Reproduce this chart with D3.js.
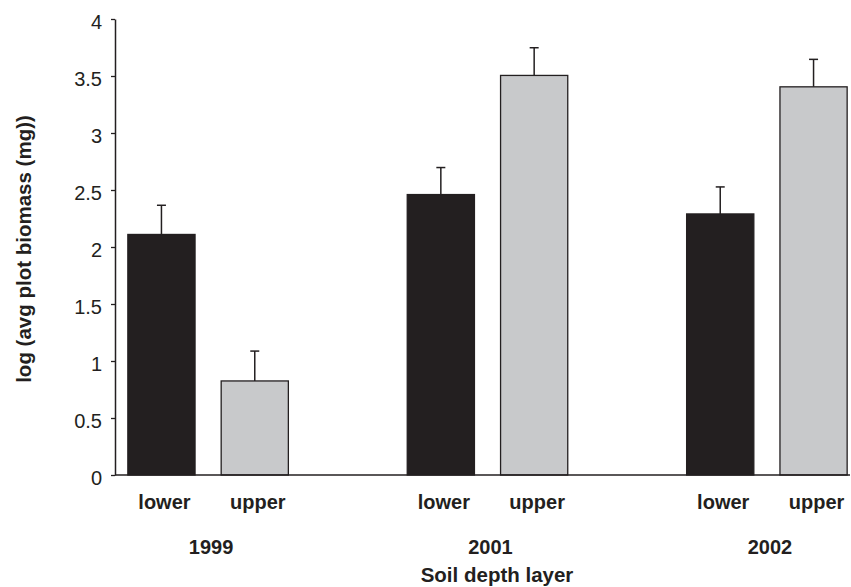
<!DOCTYPE html>
<html>
<head>
<meta charset="utf-8">
<script src="https://cdn.jsdelivr.net/npm/d3@7"></script>
<style>
  html, body { margin: 0; padding: 0; background: #ffffff; }
  svg { display: block; }
  text { font-family: "Liberation Sans", Arial, Helvetica, sans-serif; fill: #231f20; }
</style>
</head>
<body>
<svg id="chart" width="851" height="587"></svg>
<script>
// Years sampled and soil layers within each year
const years = ["1999", "2001", "2002"];
const layers = ["lower", "upper"];

// Mean log biomass per layer, one entry per year
const lowerMeans = [2.11, 2.46, 2.29];
const upperMeans = [0.825, 3.505, 3.405];

// Standard error (upper whisker length)
const lowerErrors = [0.256, 0.237, 0.237];
const upperErrors = [0.262, 0.243, 0.241];

const yTicks = [0, 0.5, 1, 1.5, 2, 2.5, 3, 3.5, 4];
const yTickLabels = ["0", "0.5", "1", "1.5", "2", "2.5", "3", "3.5", "4"];

const layerFill = { lower: "#231f20", upper: "#c8c9cb" };
const ink = "#231f20";

const svg = d3.select("#chart");
const margin = { left: 115, right: 1, top: 19, bottom: 112 };
const W = 851, H = 587;

const x = d3.scaleBand()
  .domain(years)
  .range([margin.left, margin.left + 745])
  .paddingInner(0.4255)
  .paddingOuter(0.046);

const xInner = d3.scaleBand()
  .domain(layers)
  .range([0, x.bandwidth()])
  .paddingInner(0.28)
  .paddingOuter(0);

const y = d3.scaleLinear()
  .domain([0, 4])
  .range([H - margin.bottom, margin.top]);

const rows = years.map((yr, i) => ({
  year: yr,
  bars: [
    { layer: "lower", value: lowerMeans[i], err: lowerErrors[i] },
    { layer: "upper", value: upperMeans[i], err: upperErrors[i] }
  ]
}));

// Error whiskers (drawn first so bars sit over their bases)
const groups = svg.append("g").selectAll("g")
  .data(rows)
  .join("g")
  .attr("transform", d => `translate(${x(d.year)},0)`);

const whisk = groups.selectAll("g.err")
  .data(d => d.bars)
  .join("g")
  .attr("class", "err");

whisk.append("line")
  .attr("x1", d => xInner(d.layer) + xInner.bandwidth() / 2)
  .attr("x2", d => xInner(d.layer) + xInner.bandwidth() / 2)
  .attr("y1", d => y(d.value))
  .attr("y2", d => y(d.value + d.err))
  .attr("stroke", ink)
  .attr("stroke-width", 1.5);

whisk.append("line")
  .attr("x1", d => xInner(d.layer) + xInner.bandwidth() / 2 - 4.5)
  .attr("x2", d => xInner(d.layer) + xInner.bandwidth() / 2 + 4.5)
  .attr("y1", d => y(d.value + d.err))
  .attr("y2", d => y(d.value + d.err))
  .attr("stroke", ink)
  .attr("stroke-width", 1.5);

// Bars
groups.selectAll("rect")
  .data(d => d.bars)
  .join("rect")
  .attr("x", d => xInner(d.layer))
  .attr("y", d => y(d.value))
  .attr("width", xInner.bandwidth())
  .attr("height", d => y(0) - y(d.value))
  .attr("fill", d => layerFill[d.layer])
  .attr("stroke", ink)
  .attr("stroke-width", 1.3);

// Layer labels under each bar
groups.selectAll("text.layer")
  .data(d => d.bars)
  .join("text")
  .attr("class", "layer")
  .attr("x", d => xInner(d.layer) + xInner.bandwidth() / 2 + 3)
  .attr("y", y(0) + 34)
  .attr("text-anchor", "middle")
  .style("font-size", "20px")
  .style("font-weight", "bold")
  .text(d => d.layer);

// Year labels
groups.append("text")
  .attr("x", x.bandwidth() / 2 + 3)
  .attr("y", y(0) + 79)
  .attr("text-anchor", "middle")
  .style("font-size", "20px")
  .style("font-weight", "bold")
  .text(d => d.year);

// Y axis
const yAxis = d3.axisLeft(y)
  .tickValues(yTicks)
  .tickFormat((d, i) => yTickLabels[i])
  .tickSize(4)
  .tickSizeOuter(0)
  .tickPadding(9);

const gy = svg.append("g")
  .attr("transform", `translate(${margin.left},0)`)
  .call(yAxis);
gy.select(".domain").attr("stroke", ink).attr("stroke-width", 1.5);
gy.selectAll(".tick line").attr("stroke", ink).attr("stroke-width", 1.3);
gy.selectAll(".tick text")
  .attr("dy", "0.45em")
  .style("font-size", "20px")
  .style("font-family", "'Liberation Sans', Arial, sans-serif")
  .attr("fill", ink);

// Baseline
svg.append("line")
  .attr("x1", margin.left)
  .attr("x2", W - margin.right)
  .attr("y1", y(0))
  .attr("y2", y(0))
  .attr("stroke", ink)
  .attr("stroke-width", 1.5);

// Axis titles
svg.append("text")
  .attr("transform", `translate(31,${(y(0) + y(4)) / 2 + 2}) rotate(-90)`)
  .attr("text-anchor", "middle")
  .style("font-size", "20.5px")
  .style("font-weight", "bold")
  .text("log (avg plot biomass (mg))");

svg.append("text")
  .attr("x", 497)
  .attr("y", 582)
  .attr("text-anchor", "middle")
  .style("font-size", "20.5px")
  .style("font-weight", "bold")
  .text("Soil depth layer");
</script>
</body>
</html>
